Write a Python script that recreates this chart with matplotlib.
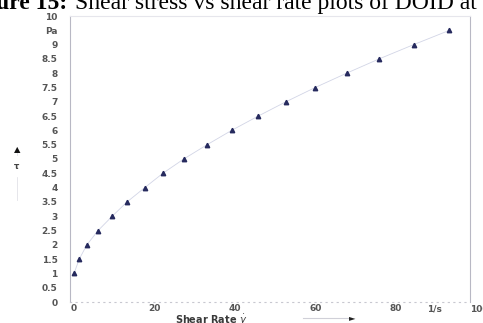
import matplotlib
matplotlib.use("Agg")
import matplotlib.pyplot as plt

# shear rate (1/s) and shear stress (Pa)
shear_rate = [0.0, 1.3, 3.2, 6.0, 9.5, 13.2, 17.6, 22.1, 27.3, 33.1,
              39.2, 45.8, 52.7, 60.0, 67.8, 75.9, 84.5, 93.4]
shear_stress = [1.0, 1.5, 2.0, 2.5, 3.0, 3.5, 4.0, 4.5, 5.0, 5.5,
                6.0, 6.5, 7.0, 7.5, 8.0, 8.5, 9.0, 9.5]

y_ticks = [i * 0.5 for i in range(21)]
y_labels = ["0", "0.5", "1", "1.5", "2", "2.5", "3", "3.5", "4", "4.5", "5",
            "5.5", "6", "6.5", "7", "7.5", "8", "8.5", "9", "Pa", "10"]
x_ticks = [0, 20, 40, 60, 80]
x_labels = ["0", "20", "40", "60", "80"]

W, H = 483, 323
fig = plt.figure(figsize=(W / 100, H / 100), dpi=100)
ax = fig.add_axes([70 / W, 1 - 302 / H, 400 / W, 286 / H])

ax.plot(shear_rate, shear_stress, color="#d2d5e6", lw=0.6, zorder=1)
ax.plot(shear_rate, shear_stress, ls="none", marker="^", ms=3.2,
        color="#262a5e", mec="#262a5e", zorder=2)

ax.set_xlim(-1, 98.5)
ax.set_ylim(0, 10)

tick_font = dict(family="DejaVu Sans", weight="bold", size=6.5, color="#555555")
ax.set_yticks(y_ticks)
ax.set_yticklabels(y_labels, **tick_font)
ax.set_xticks(x_ticks)
ax.set_xticklabels(x_labels, **tick_font)
ax.tick_params(axis="y", length=0, pad=9)
ax.tick_params(axis="x", length=0, pad=1.5)

# extra x labels: unit and the clipped 100
ax.text(89.7, -0.09, "1/s", ha="center", va="top", **tick_font)
ax.text(100.8, -0.09, "100", ha="center", va="top", clip_on=False, **tick_font)

for side in ["left", "right", "top"]:
    ax.spines[side].set_color("#b8b8c4")
    ax.spines[side].set_linewidth(0.8)
ax.spines["top"].set_color("#e6e6ec")
ax.spines["bottom"].set_color("#c8c8d0")
ax.spines["bottom"].set_linestyle((0, (1, 4)))
ax.spines["bottom"].set_linewidth(0.8)

# x axis title with arrow
fig.text(211 / W, 1 - 320 / H, "Shear Rate $\\dot{\\gamma}$", ha="center", va="center",
         family="DejaVu Sans", weight="bold", size=7, color="#3a3a3a")
fig.add_artist(plt.Line2D([303 / W, 350 / W], [1 - 318 / H, 1 - 318 / H],
                          color="#d0d0d8", lw=0.8))
fig.text(352 / W, 1 - 318 / H, "\u25ba", ha="center", va="center",
         size=6, color="#222222")

# y axis title with arrow
fig.add_artist(plt.Line2D([17 / W, 17 / W], [1 - 200 / H, 1 - 152 / H],
                          color="#e2e2e8", lw=0.6))
fig.text(17 / W, 1 - 150 / H, "\u25b2", ha="center", va="center", size=6, color="#111111")
fig.text(17 / W, 1 - 166 / H, "\u03c4", ha="center", va="center", size=6,
         weight="bold", color="#444444", backgroundcolor="white")

# caption, cut off at the top edge
fig.text(67 / W, 1 - 9 / H, "ure 15:", ha="right", va="baseline",
         family="Liberation Serif", weight="bold", size=17, color="black")
fig.text(75 / W, 1 - 9 / H, "Shear stress vs shear rate plots of DOID at",
         ha="left", va="baseline", family="Liberation Serif", size=17, color="black")

fig.savefig("out.png", dpi=100)
